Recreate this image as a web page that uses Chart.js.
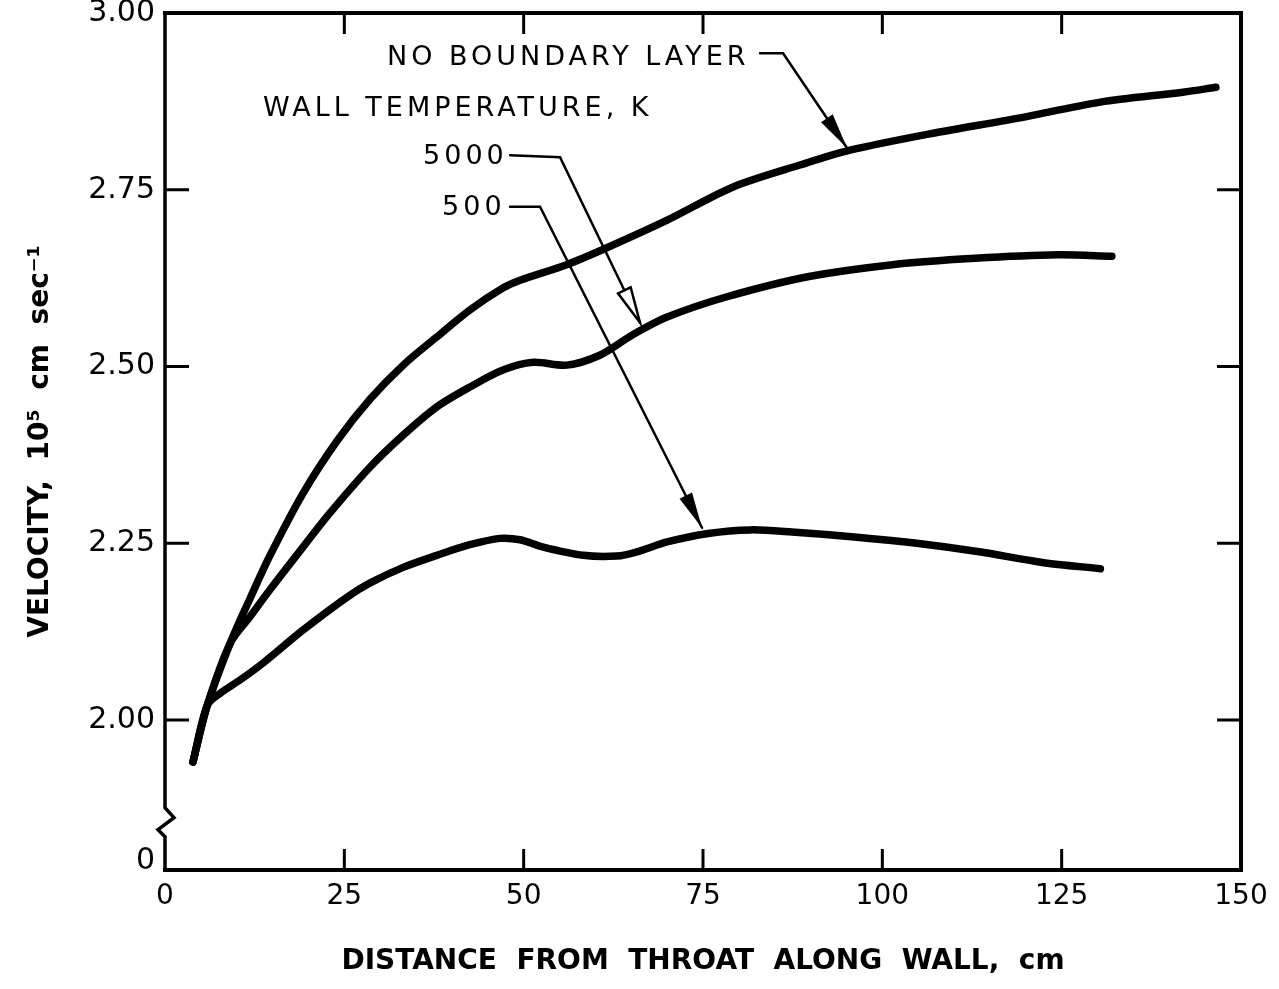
<!DOCTYPE html>
<html lang="en">
<head>
<meta charset="UTF-8">
<title>Velocity along wall</title>
<script src="https://cdn.jsdelivr.net/npm/chart.js"></script>
<style>
  html, body { margin: 0; padding: 0; background: #fff; }
  #wrap { width: 1279px; height: 989px; position: relative; }
</style>
</head>
<body>
<div id="wrap"><canvas id="chart"></canvas></div>
<script>
// distance from throat (cm) / velocity (10^5 cm/s)
const noLayerDist = [3.9, 5.9, 9.1, 11.9, 14.6, 19.2, 24.0, 28.6, 33.2, 37.9, 42.5, 47.1, 49.5, 56.0, 61.6, 70.0, 79.2, 88.5, 95.5, 107.1, 118.8, 130.4, 141.9, 146.5];
const noLayerVel  = [1.941, 2.021, 2.109, 2.173, 2.232, 2.320, 2.395, 2.454, 2.502, 2.542, 2.580, 2.611, 2.622, 2.644, 2.668, 2.707, 2.754, 2.785, 2.806, 2.830, 2.851, 2.874, 2.888, 2.895];

const wall5000Dist = [3.9, 5.9, 9.1, 11.9, 14.6, 18.8, 23.0, 28.6, 33.2, 37.9, 42.5, 47.1, 51.3, 56.0, 60.6, 65.2, 70.0, 78.1, 89.6, 101.4, 112.9, 124.5, 132.0];
const wall5000Vel  = [1.941, 2.021, 2.109, 2.147, 2.184, 2.239, 2.293, 2.358, 2.403, 2.443, 2.471, 2.495, 2.506, 2.502, 2.516, 2.545, 2.570, 2.598, 2.627, 2.644, 2.653, 2.658, 2.656];

const wall500Dist = [3.9, 5.9, 7.7, 10.5, 13.7, 19.2, 25.4, 28.6, 33.2, 37.9, 42.5, 46.7, 49.5, 52.6, 58.3, 63.0, 65.8, 70.0, 75.7, 81.6, 87.4, 96.1, 104.8, 113.5, 122.3, 130.4];
const wall500Vel  = [1.941, 2.021, 2.038, 2.057, 2.081, 2.127, 2.174, 2.194, 2.216, 2.233, 2.248, 2.257, 2.255, 2.245, 2.233, 2.232, 2.238, 2.252, 2.264, 2.269, 2.266, 2.259, 2.250, 2.238, 2.223, 2.214];

const xTicks = [0, 25, 50, 75, 100, 125, 150];
const yTicks = [1.8, 2.0, 2.25, 2.5, 2.75, 3.0];
const yTickLabels = ['0', '2.00', '2.25', '2.50', '2.75', '3.00'];

// axis break on the velocity scale (between 0 and 2.00)
const breakVals = [1.876, 1.862, 1.845, 1.835];

// labels and leader arrows, in data units
const notes = [
  { text: 'NO BOUNDARY LAYER', at: [30.95, 2.936], leader: [[82.95, 2.943], [86.16, 2.943], [95.08, 2.809]], head: 'filled' },
  { text: 'WALL TEMPERATURE, K', at: [13.66, 2.864] },
  { text: '5000', at: [35.97, 2.796], leader: [[48.1, 2.799], [55.07, 2.796], [66.22, 2.562]], head: 'open' },
  { text: '500', at: [38.62, 2.724], leader: [[48.1, 2.726], [52.28, 2.726], [74.86, 2.272]], head: 'filled' }
];

const FONT = "'DejaVu Sans', sans-serif";

function pts(xs, ys) {
  return xs.map((v, i) => ({ x: v, y: ys[i] }));
}

function curve(label, xs, ys) {
  return {
    label: label,
    data: pts(xs, ys),
    borderColor: '#000',
    borderWidth: 7.5,
    borderCapStyle: 'round',
    borderJoinStyle: 'round',
    pointRadius: 0,
    tension: 0.3,
    fill: false
  };
}

const framePlugin = {
  id: 'frame',
  afterDraw(chart) {
    const ctx = chart.ctx;
    const { left, right, top, bottom } = chart.chartArea;
    const xs = chart.scales.x, ys = chart.scales.y;
    ctx.save();
    ctx.strokeStyle = '#000';
    ctx.fillStyle = '#000';
    ctx.lineCap = 'square';
    ctx.lineWidth = 4;

    // top, right, bottom
    ctx.beginPath();
    ctx.moveTo(left, top);
    ctx.lineTo(right, top);
    ctx.lineTo(right, bottom);
    ctx.lineTo(left, bottom);
    ctx.stroke();

    // left with the break
    const b = breakVals.map(v => ys.getPixelForValue(v));
    ctx.lineWidth = 3.5;
    ctx.beginPath();
    ctx.moveTo(left, top);
    ctx.lineTo(left, b[0]);
    ctx.lineTo(left + 9, b[1]);
    ctx.lineTo(left - 7, b[2]);
    ctx.lineTo(left, b[3]);
    ctx.lineTo(left, bottom);
    ctx.stroke();

    // inward ticks
    ctx.lineWidth = 3;
    ctx.lineCap = 'butt';
    const tl = 21;
    xTicks.slice(1, -1).forEach(v => {
      const px = xs.getPixelForValue(v);
      ctx.beginPath();
      ctx.moveTo(px, bottom); ctx.lineTo(px, bottom - tl);
      ctx.moveTo(px, top); ctx.lineTo(px, top + tl);
      ctx.stroke();
    });
    yTicks.slice(1, -1).forEach(v => {
      const py = ys.getPixelForValue(v);
      ctx.beginPath();
      ctx.moveTo(left, py); ctx.lineTo(left + tl + 3, py);
      ctx.moveTo(right, py); ctx.lineTo(right - tl - 3, py);
      ctx.stroke();
    });

    // annotations
    ctx.font = '27px ' + FONT;
    ctx.letterSpacing = '4px';
    ctx.textBaseline = 'middle';
    ctx.textAlign = 'left';
    notes.forEach(n => {
      ctx.fillText(n.text, xs.getPixelForValue(n.at[0]), ys.getPixelForValue(n.at[1]));
      if (!n.leader) return;
      const p = n.leader.map(q => [xs.getPixelForValue(q[0]), ys.getPixelForValue(q[1])]);
      ctx.lineWidth = 2.5;
      ctx.lineCap = 'round';
      ctx.beginPath();
      ctx.moveTo(p[0][0], p[0][1]);
      for (let i = 1; i < p.length; i++) ctx.lineTo(p[i][0], p[i][1]);
      ctx.stroke();
      // arrow head
      const tip = p[p.length - 1], from = p[p.length - 2];
      const ang = Math.atan2(tip[1] - from[1], tip[0] - from[0]);
      const len = 36, half = 7;
      const bx = tip[0] - len * Math.cos(ang), by = tip[1] - len * Math.sin(ang);
      ctx.beginPath();
      ctx.moveTo(tip[0], tip[1]);
      ctx.lineTo(bx + half * Math.sin(ang), by - half * Math.cos(ang));
      ctx.lineTo(bx - half * Math.sin(ang), by + half * Math.cos(ang));
      ctx.closePath();
      if (n.head === 'filled') {
        ctx.fill();
      } else {
        ctx.fillStyle = '#fff';
        ctx.fill();
        ctx.lineWidth = 2.5;
        ctx.stroke();
        ctx.fillStyle = '#000';
      }
    });
    ctx.restore();
  }
};

new Chart(document.getElementById('chart'), {
  type: 'line',
  data: {
    datasets: [
      curve('No boundary layer', noLayerDist, noLayerVel),
      curve('5000 K', wall5000Dist, wall5000Vel),
      curve('500 K', wall500Dist, wall500Vel)
    ]
  },
  options: {
    responsive: true,
    maintainAspectRatio: false,
    animation: false,
    layout: { padding: { top: 13, right: 38, left: 0, bottom: 0 } },
    plugins: {
      legend: { display: false },
      tooltip: { enabled: false }
    },
    scales: {
      x: {
        type: 'linear',
        min: 0,
        max: 150,
        afterBuildTicks: s => { s.ticks = xTicks.map(v => ({ value: v })); },
        afterFit: s => { s.height = 119; s.paddingLeft = 0; s.paddingRight = 0; },
        grid: { display: false, drawTicks: false },
        border: { display: false },
        ticks: {
          color: '#000',
          padding: 10,
          maxRotation: 0,
          font: { family: FONT, size: 28 }
        },
        title: {
          display: true,
          text: 'DISTANCE  FROM  THROAT  ALONG  WALL,  cm',
          color: '#000',
          padding: { top: 0, bottom: 10 },
          font: { family: FONT, size: 28, weight: 'bold' }
        }
      },
      y: {
        type: 'linear',
        min: 1.788,
        max: 3.0,
        afterBuildTicks: s => { s.ticks = yTicks.map(v => ({ value: v })); },
        afterFit: s => { s.width = 165; s.paddingTop = 0; s.paddingBottom = 0; },
        grid: { display: false, drawTicks: false },
        border: { display: false },
        ticks: {
          color: '#000',
          padding: 10,
          font: { family: FONT, size: 30 },
          callback: (value, index) => yTickLabels[index]
        },
        title: {
          display: true,
          text: 'VELOCITY,  10\u2075  cm  sec\u207B\u00B9',
          color: '#000',
          padding: { top: 24, bottom: 0 },
          font: { family: FONT, size: 28, weight: 'bold' }
        }
      }
    }
  },
  plugins: [framePlugin]
});
</script>
</body>
</html>
